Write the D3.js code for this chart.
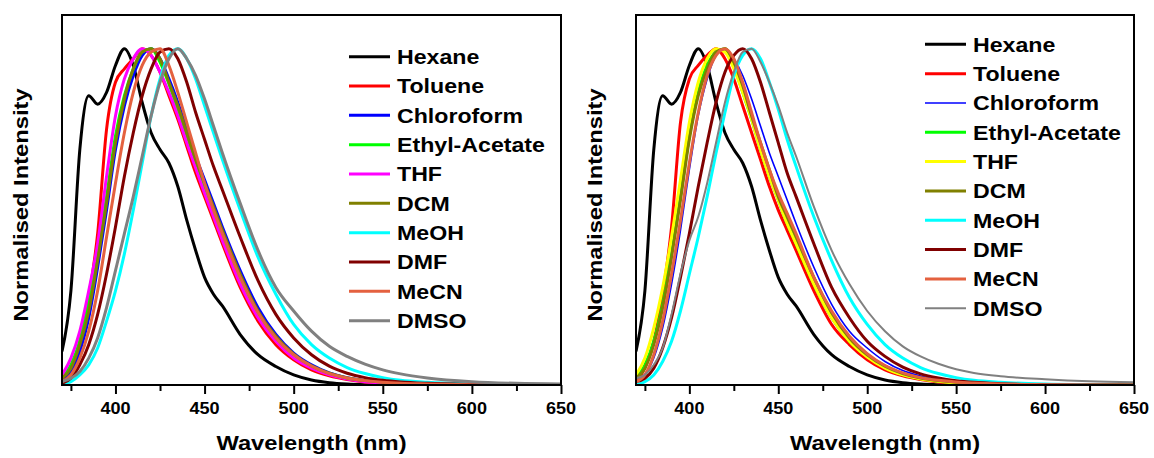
<!DOCTYPE html>
<html>
<head>
<meta charset="utf-8">
<script src="https://cdn.jsdelivr.net/npm/d3@7"></script>
<style>
  body { margin: 0; background: #fff; }
  text { font-family: "Liberation Sans", Arial, sans-serif; font-weight: bold; fill: #000; }
</style>
</head>
<body>
<script>
// wavelength grid (nm) shared by every spectrum
const wavelengths = [370,375,380,385,390,395,400,405,410,415, 420,425,430,435,440,445,450,455,460, 470,480,490,500,510,520,530,540,550,560, 575,600,625,650];

const solvents = ["Hexane","Toluene","Chloroform","Ethyl-Acetate","THF","DCM","MeOH","DMF","MeCN","DMSO"];
const colorsA = ["#000000","#ff0000","#0000ff","#00ff00","#ff00ff","#808000","#00ffff","#800000","#e4613f","#808080"];
const colorsB = ["#000000","#ff0000","#0000ff","#00ff00","#ffff00","#808000","#00ffff","#800000","#e4613f","#808080"];
const majorTicks = [400,450,500,550,600,650];
const minorTicks = [375,425,475,525,575,625];

// normalised intensities
const hexane = [0.10,0.28,0.70,0.86,0.835,0.87,0.95,1.0,0.95,0.84, 0.75,0.70,0.66,0.59,0.49,0.40,0.32,0.27,0.235, 0.15,0.09,0.055,0.03,0.015,0.007,0.003,0.001,0,0, 0,0,0,0];

// left panel
const tolueneA    = [0.01,0.05,0.13,0.26,0.45,0.76,0.90,0.94,0.97,1.0, 0.98,0.93,0.86,0.79,0.71,0.63,0.56,0.49,0.42, 0.29,0.19,0.12,0.075,0.045,0.027,0.016,0.009,0.005,0.003, 0.001,0,0,0];
const chloroformA = [0.01,0.04,0.10,0.20,0.35,0.52,0.70,0.83,0.92,0.98, 1.0,0.97,0.91,0.84,0.76,0.68,0.61,0.54,0.47, 0.34,0.23,0.15,0.095,0.06,0.036,0.022,0.013,0.008,0.005, 0.002,0,0,0];
const ethylA      = [0.02,0.06,0.13,0.24,0.39,0.56,0.74,0.86,0.94,0.99, 1.0,0.96,0.895,0.82,0.74,0.66,0.59,0.52,0.45, 0.32,0.215,0.14,0.09,0.055,0.033,0.02,0.012,0.007,0.004, 0.002,0,0,0];
const thfA        = [0.03,0.08,0.16,0.28,0.42,0.62,0.80,0.91,0.97,1.0, 0.98,0.93,0.87,0.80,0.72,0.645,0.57,0.50,0.43, 0.30,0.20,0.13,0.08,0.05,0.03,0.018,0.01,0.006,0.003, 0.001,0,0,0];
const dcmA        = [0.02,0.05,0.12,0.22,0.37,0.54,0.72,0.85,0.94,0.99, 1.0,0.97,0.90,0.83,0.75,0.67,0.60,0.53,0.46, 0.33,0.22,0.145,0.092,0.057,0.035,0.021,0.013,0.008,0.005, 0.002,0,0,0];
const meohA       = [0,0.01,0.03,0.06,0.11,0.19,0.28,0.39,0.52,0.66, 0.80,0.91,0.98,1.0,0.97,0.91,0.83,0.75,0.67, 0.52,0.38,0.27,0.18,0.12,0.08,0.052,0.034,0.022,0.014, 0.008,0.003,0.001,0];
const dmfA        = [0.005,0.02,0.06,0.12,0.21,0.33,0.47,0.62,0.75,0.86, 0.94,0.99,1.0,0.97,0.90,0.81,0.73,0.65,0.58, 0.44,0.31,0.21,0.14,0.09,0.056,0.035,0.022,0.014,0.009, 0.005,0.002,0.001,0];
const mecnA       = [0.01,0.03,0.08,0.16,0.28,0.44,0.60,0.75,0.87,0.95, 0.99,1.0,0.95,0.87,0.78,0.69,0.60,0.52,0.45, 0.32,0.215,0.14,0.09,0.056,0.034,0.021,0.013,0.008,0.005, 0.003,0.001,0,0];
const dmsoA       = [0.01,0.02,0.04,0.08,0.14,0.23,0.34,0.45,0.56,0.68, 0.80,0.90,0.97,1.0,0.97,0.92,0.85,0.77,0.69, 0.54,0.40,0.29,0.22,0.16,0.115,0.085,0.062,0.045,0.033, 0.021,0.01,0.005,0.003];

// right panel
const tolueneB    = [0.01,0.05,0.13,0.27,0.47,0.78,0.91,0.95,0.98,1.0, 0.97,0.91,0.83,0.75,0.67,0.59,0.52,0.46,0.40, 0.28,0.18,0.12,0.075,0.045,0.027,0.016,0.009,0.005,0.003, 0.001,0,0,0];
const chloroformB = [0.01,0.03,0.08,0.17,0.30,0.46,0.64,0.80,0.91,0.98, 1.0,0.97,0.92,0.85,0.77,0.69,0.62,0.55,0.48, 0.35,0.24,0.16,0.11,0.07,0.043,0.027,0.017,0.011,0.007, 0.003,0.001,0,0];
const ethylB      = [0.02,0.06,0.13,0.24,0.39,0.56,0.74,0.87,0.95,0.99, 1.0,0.95,0.87,0.79,0.70,0.62,0.55,0.48,0.42, 0.30,0.20,0.13,0.085,0.052,0.031,0.019,0.011,0.007,0.004, 0.002,0,0,0];
const thfB        = [0.03,0.08,0.17,0.29,0.44,0.61,0.78,0.90,0.97,1.0, 0.99,0.94,0.87,0.79,0.70,0.62,0.55,0.48,0.42, 0.30,0.20,0.13,0.083,0.05,0.03,0.018,0.011,0.006,0.004, 0.002,0,0,0];
const dcmB        = [0.02,0.05,0.12,0.23,0.38,0.55,0.73,0.86,0.94,0.99, 1.0,0.96,0.89,0.80,0.72,0.64,0.56,0.50,0.44, 0.32,0.215,0.14,0.09,0.056,0.034,0.021,0.013,0.008,0.005, 0.002,0.001,0,0];
const meohB       = [0,0.01,0.03,0.07,0.13,0.22,0.33,0.44,0.56,0.69, 0.81,0.92,0.98,1.0,0.97,0.90,0.82,0.73,0.65, 0.50,0.37,0.26,0.18,0.12,0.08,0.052,0.034,0.022,0.014, 0.008,0.003,0.001,0];
const dmfB        = [0.01,0.02,0.05,0.11,0.20,0.32,0.45,0.59,0.72,0.84, 0.93,0.98,1.0,0.97,0.90,0.81,0.72,0.63,0.56, 0.42,0.29,0.20,0.13,0.085,0.053,0.033,0.021,0.013,0.008, 0.004,0.001,0,0];
const mecnB       = [0.01,0.03,0.09,0.19,0.33,0.49,0.66,0.81,0.92,0.98, 1.0,0.97,0.90,0.81,0.72,0.64,0.57,0.51,0.45, 0.32,0.22,0.145,0.093,0.058,0.036,0.022,0.014,0.009,0.006, 0.003,0.001,0,0];
const dmsoB       = [0.02,0.03,0.06,0.11,0.21,0.33,0.43,0.50,0.60,0.72, 0.84,0.93,0.99,1.0,0.96,0.90,0.83,0.75,0.68, 0.53,0.40,0.30,0.22,0.16,0.115,0.085,0.063,0.047,0.036, 0.026,0.017,0.011,0.008];

const seriesA = [hexane, tolueneA, chloroformA, ethylA, thfA, dcmA, meohA, dmfA, mecnA, dmsoA];
const seriesB = [hexane, tolueneB, chloroformB, ethylB, thfB, dcmB, meohB, dmfB, mecnB, dmsoB];
const widthsA = [3,3,3,3,3,3,3,3,3,3];
const widthsB = [3,3,1.6,3,3,3,3,3,3,2];

const svg = d3.select("body").append("svg")
    .attr("width", 1154)
    .attr("height", 458);

const stretch = 1.13; // text in the figure is a little wider than plain Arial

function drawPanel(id, left, right, series, colors, widths, legendX, legendY) {
    const top = 15, bottom = 385;
    const x = d3.scaleLinear().domain([370, 650]).range([left, right]);
    const y = d3.scaleLinear().domain([0, 1.1]).range([bottom, top]);

    const g = svg.append("g");

    g.append("clipPath").attr("id", "clip" + id)
        .append("rect")
        .attr("x", left).attr("y", top)
        .attr("width", right - left).attr("height", bottom - top);

    const line = d3.line()
        .x((d, i) => x(wavelengths[i]))
        .y(d => y(d))
        .curve(d3.curveMonotoneX);

    g.append("g").attr("clip-path", `url(#clip${id})`)
        .selectAll("path")
        .data(series)
        .enter()
        .append("path")
        .attr("d", d => line(d))
        .attr("fill", "none")
        .attr("stroke", (d, i) => colors[i])
        .attr("stroke-width", (d, i) => widths[i])
        .attr("stroke-linejoin", "round");

    // bottom axis: labelled majors, unlabelled minors
    const major = g.append("g")
        .attr("transform", `translate(0,${bottom})`)
        .call(d3.axisBottom(x).tickValues(majorTicks).tickSize(9).tickSizeOuter(0).tickFormat(""));
    const minor = g.append("g")
        .attr("transform", `translate(0,${bottom})`)
        .call(d3.axisBottom(x).tickValues(minorTicks).tickSize(6).tickSizeOuter(0).tickFormat(""));
    [major, minor].forEach(a => {
        a.select(".domain").remove();
        a.selectAll("line").attr("stroke", "#000").attr("stroke-width", 2);
    });

    g.selectAll(".ticklabel")
        .data(majorTicks)
        .enter()
        .append("text")
        .attr("class", "ticklabel")
        .attr("transform", d => `translate(${x(d)},414) scale(${stretch},1)`)
        .attr("text-anchor", "middle")
        .style("font-size", "16px")
        .text(d => d);

    // frame
    g.append("rect")
        .attr("x", left).attr("y", top)
        .attr("width", right - left).attr("height", bottom - top)
        .attr("fill", "none")
        .attr("stroke", "#000")
        .attr("stroke-width", 2);

    g.append("text")
        .attr("transform", `translate(${(left + right) / 2},450) scale(${stretch},1)`)
        .attr("text-anchor", "middle")
        .style("font-size", "21px")
        .text("Wavelength (nm)");

    g.append("text")
        .attr("transform", `translate(${left - 34},205) rotate(-90) scale(${stretch},1)`)
        .attr("text-anchor", "middle")
        .style("font-size", "21px")
        .text("Normalised Intensity");

    // legend
    const rows = g.selectAll(".legend")
        .data(solvents)
        .enter()
        .append("g")
        .attr("class", "legend")
        .attr("transform", (d, i) => `translate(${legendX},${legendY + i * 29.33})`);

    rows.append("line")
        .attr("x1", 0).attr("x2", 41)
        .attr("y1", 0).attr("y2", 0)
        .attr("stroke", (d, i) => colors[i])
        .attr("stroke-width", (d, i) => widths[i]);

    rows.append("text")
        .attr("transform", `translate(48,7.3) scale(${stretch},1)`)
        .style("font-size", "20.5px")
        .text(d => d);
}

drawPanel("A", 62, 561, seriesA, colorsA, widthsA, 349, 56.7);
drawPanel("B", 636, 1134, seriesB, colorsB, widthsB, 925, 44.3);
</script>
</body>
</html>
